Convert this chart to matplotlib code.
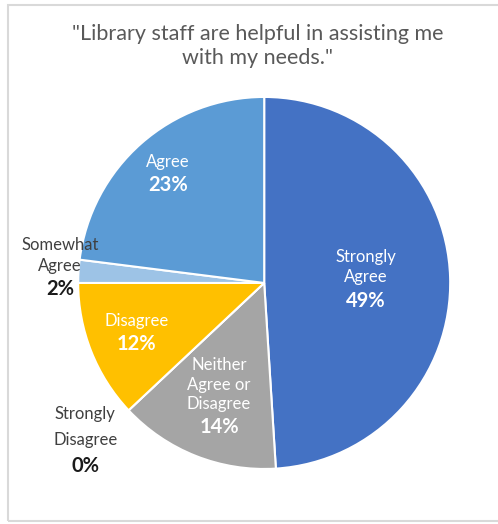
import numpy as np
import matplotlib.pyplot as plt
from matplotlib.patches import Rectangle

plt.rcParams['font.family'] = ['Lato', 'DejaVu Sans']

title = '"Library staff are helpful in assisting me\nwith my needs."'
categories = ['Strongly\nAgree', 'Neither\nAgree or\nDisagree', 'Strongly\nDisagree',
              'Disagree', 'Somewhat\nAgree', 'Agree']
percents = [49, 14, 0, 12, 2, 23]
colors = ['#4472C4', '#A5A5A5', '#ED7D31', '#FFC000', '#9DC3E6', '#5B9BD5']

fig = plt.figure(figsize=(4.98, 5.24), dpi=100)
fig.patch.set_facecolor('white')

# light frame around the chart area
fig.add_artist(Rectangle((8 / 498, 3 / 524), 492 / 498, 516 / 524, transform=fig.transFigure,
                         fill=False, edgecolor='#D9D9D9', linewidth=1.5))

fig.text(0.518, 0.913, title, ha='center', va='center', fontsize=15.5,
         color='#595959', linespacing=1.25)

ax = fig.add_axes([0.157, 0.105, 0.747, 0.710])
wedges, _ = ax.pie(percents, colors=colors, startangle=90, counterclock=False,
                   wedgeprops=dict(edgecolor='white', linewidth=1.5))
ax.set_xlim(-1, 1)
ax.set_ylim(-1, 1)
ax.set_aspect('equal')

# label distance from centre for each slice (None = placed outside)
label_r = [0.545, 0.66, None, 0.74, None, 0.78]
outside = {2: (-0.962, -0.844), 4: (-1.097, 0.08)}
line_step = [0.11, 0.105, 0.14, 0.11, 0.11, 0.11]

for i, (w, name, pct) in enumerate(zip(wedges, categories, percents)):
    if label_r[i] is not None:
        ang = np.deg2rad((w.theta1 + w.theta2) / 2)
        x, y = label_r[i] * np.cos(ang), label_r[i] * np.sin(ang)
        name_col, pct_col = 'white', 'white'
    else:
        x, y = outside[i]
        name_col, pct_col = '#404040', '#1a1a1a'
    n_lines = name.count('\n') + 1
    step = line_step[i]
    top = y + (step * n_lines + 0.135) / 2
    for j, line in enumerate(name.split('\n')):
        ax.text(x, top - step * (j + 0.5), line, ha='center', va='center',
                fontsize=12, color=name_col)
    ax.text(x, top - step * n_lines - 0.07, f'{pct}%', ha='center', va='center',
            fontsize=14.5, fontweight='bold', color=pct_col)

fig.savefig('out.png', dpi=100, facecolor='white')
